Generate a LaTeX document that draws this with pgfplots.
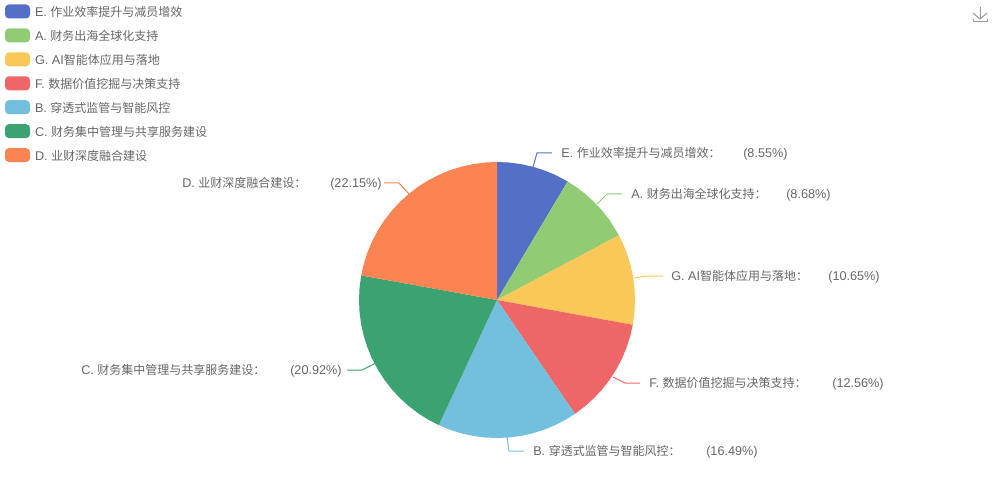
\documentclass[border=0pt]{standalone}
\usepackage{fontspec}
\setmainfont{Liberation Sans}
\newfontfamily\cjk[Scale=0.947]{Noto Sans CJK SC}
\usepackage{pgfplots}
\pgfplotsset{compat=1.18}
\definecolor{cE}{HTML}{5470C6}
\definecolor{cA}{HTML}{91CC75}
\definecolor{cG}{HTML}{FAC858}
\definecolor{cF}{HTML}{EE6666}
\definecolor{cB}{HTML}{73C0DE}
\definecolor{cC}{HTML}{3BA272}
\definecolor{cD}{HTML}{FC8452}
\definecolor{tx}{HTML}{666666}
\definecolor{ic}{HTML}{999999}
\tikzset{lab/.style={anchor=base west,yshift=-3.3pt,font=\fontsize{9.5}{11}\selectfont,text=tx,inner sep=0pt}}
\begin{document}
\begin{tikzpicture}
\begin{axis}[
  scale only axis, width=745.5pt, height=375pt,
  xmin=-497, xmax=497, ymin=-200, ymax=300,
  hide axis, clip=false,
  legend cell align=left,
  legend image code/.code={\path[#1,rounded corners=3pt] (0pt,-3.75pt) rectangle (18.75pt,6.75pt);\path (22.5pt,0pt);},
  legend style={at={(axis cs:-492,295.5)},anchor=north west,draw=none,fill=none,
    inner sep=0pt,outer sep=0pt,row sep=6.5pt,
    font=\fontsize{9.5}{11}\selectfont\color{tx},
    nodes={inner sep=0pt,text height=7pt,text depth=2.4pt}},
]
\path (axis cs:-497,-200) rectangle (axis cs:497,300);
\addplot[fill=cE,draw=none,data cs=polar] coordinates {(0,0) (90,138) (85,138) (80,138) (75,138) (70,138) (65,138) (59.22,138)};
\addlegendentry{E. {\cjk 作业效率提升与减员增效}}
\addplot[fill=cA,draw=none,data cs=polar] coordinates {(0,0) (59.22,138) (55,138) (50,138) (45,138) (40,138) (35,138) (27.97,138)};
\addlegendentry{A. {\cjk 财务出海全球化支持}}
\addplot[fill=cG,draw=none,data cs=polar] coordinates {(0,0) (27.97,138) (25,138) (20,138) (15,138) (10,138) (5,138) (0,138) (-5,138) (-10.37,138)};
\addlegendentry{G. AI{\cjk 智能体应用与落地}}
\addplot[fill=cF,draw=none,data cs=polar] coordinates {(0,0) (-10.37,138) (-15,138) (-20,138) (-25,138) (-30,138) (-35,138) (-40,138) (-45,138) (-50,138) (-55.59,138)};
\addlegendentry{F. {\cjk 数据价值挖掘与决策支持}}
\addplot[fill=cB,draw=none,data cs=polar] coordinates {(0,0) (-55.59,138) (-60,138) (-65,138) (-70,138) (-75,138) (-80,138) (-85,138) (-90,138) (-95,138) (-100,138) (-105,138) (-110,138) (-114.95,138)};
\addlegendentry{B. {\cjk 穿透式监管与智能风控}}
\addplot[fill=cC,draw=none,data cs=polar] coordinates {(0,0) (-114.95,138) (-120,138) (-125,138) (-130,138) (-135,138) (-140,138) (-145,138) (-150,138) (-155,138) (-160,138) (-165,138) (-170,138) (-175,138) (-180,138) (-185,138) (-190.26,138)};
\addlegendentry{C. {\cjk 财务集中管理与共享服务建设}}
\addplot[fill=cD,draw=none,data cs=polar] coordinates {(0,0) (-190.26,138) (-195,138) (-200,138) (-205,138) (-210,138) (-215,138) (-220,138) (-225,138) (-230,138) (-235,138) (-240,138) (-245,138) (-250,138) (-255,138) (-260,138) (-265,138) (-270,138)};
\addlegendentry{D. {\cjk 业财深度融合建设}}
% leader lines
\addplot[forget plot,cE,line width=0.75pt] coordinates {(36,133) (40,147) (55,147)};
\addplot[forget plot,cA,line width=0.75pt] coordinates {(100,96) (110,106) (125,106)};
\addplot[forget plot,cG,line width=0.75pt] coordinates {(137,22) (150,24) (166,24)};
\addplot[forget plot,cF,line width=0.75pt] coordinates {(116,-77) (128,-83) (143,-83)};
\addplot[forget plot,cB,line width=0.75pt] coordinates {(10,-137) (12,-151) (27,-151)};
\addplot[forget plot,cC,line width=0.75pt] coordinates {(-121,-63) (-135,-70) (-150,-70)};
\addplot[forget plot,cD,line width=0.75pt] coordinates {(-88,106) (-98,117) (-113,117)};
% labels
\node[lab] at (axis cs:64,147) {E. {\cjk 作业效率提升与减员增效：}};
\node[lab] at (axis cs:246,147) {(8.55\%)};
\node[lab] at (axis cs:134,106) {A. {\cjk 财务出海全球化支持：}};
\node[lab] at (axis cs:289,106) {(8.68\%)};
\node[lab] at (axis cs:174,24) {G. AI{\cjk 智能体应用与落地：}};
\node[lab] at (axis cs:331,24) {(10.65\%)};
\node[lab] at (axis cs:152,-83) {F. {\cjk 数据价值挖掘与决策支持：}};
\node[lab] at (axis cs:335,-83) {(12.56\%)};
\node[lab] at (axis cs:36,-151) {B. {\cjk 穿透式监管与智能风控：}};
\node[lab] at (axis cs:209,-151) {(16.49\%)};
\node[lab] at (axis cs:-416,-70) {C. {\cjk 财务集中管理与共享服务建设：}};
\node[lab] at (axis cs:-207,-70) {(20.92\%)};
\node[lab] at (axis cs:-315,117) {D. {\cjk 业财深度融合建设：}};
\node[lab] at (axis cs:-167,117) {(22.15\%)};
% toolbox download icon
\draw[ic,line width=0.75pt] (axis cs:483,293) -- (axis cs:483,281);
\draw[ic,line width=0.75pt] (axis cs:476,287) -- (axis cs:483,281) -- (axis cs:490,287);
\draw[ic,line width=0.75pt] (axis cs:476,281) -- (axis cs:476,278) -- (axis cs:490,278) -- (axis cs:490,281);
\end{axis}
\end{tikzpicture}
\end{document}
